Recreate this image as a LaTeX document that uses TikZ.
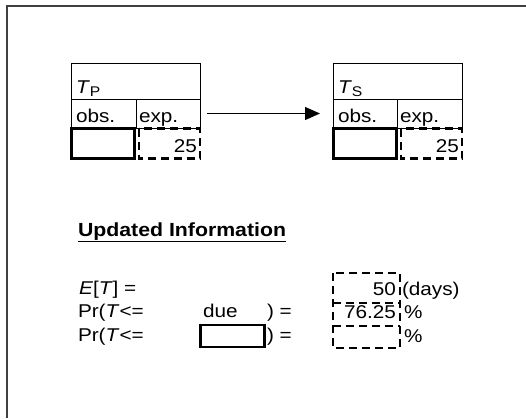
\documentclass[tikz,border=0pt]{standalone}
\usepackage{fontspec}
\setmainfont{Liberation Sans}[FakeStretch=1.12]
\usetikzlibrary{arrows.meta}
\begin{document}
\begin{tikzpicture}[x=1pt,y=-1pt,
  frameline/.style={draw=black!75, line width=1.3pt},
  cell/.style={draw, line width=1pt, inner sep=0pt, outer sep=0pt},
  solidbox/.style={draw, line width=2.3pt, inner sep=0pt, outer sep=0pt},
  hole/.style={inner sep=0pt, outer sep=0pt},
  dbox/.style={line width=2.3pt, dash pattern=on 8pt off 5pt},
  txt/.style={inner sep=0pt, outer sep=0pt, font=\fontsize{18.5}{22}\selectfont},
  head/.style={inner sep=0pt, outer sep=0pt, font=\bfseries\fontsize{19}{22}\selectfont}]
\useasboundingbox (0,0) rectangle (526,418);
\fill[white] (0,0) rectangle (526,418);
\draw[frameline] (526,6) -- (7,6) -- (7,418);

% ---- table T_P
\node[cell, minimum width=129pt, minimum height=36pt] (tph) at (135.5,81) {};
\node[cell, minimum width=65pt, minimum height=29pt] (tpo) at (103.5,113.5) {};
\node[cell, minimum width=64pt, minimum height=29pt] (tpe) at (168,113.5) {};
\node[solidbox, minimum width=63pt, minimum height=30pt] (tpv) at (103,143.5) {};
\node[hole, minimum width=61pt, minimum height=30pt] (tpd) at (169.5,143.5) {};
\draw[dbox] (tpd.north west) rectangle (tpd.south east);
\node[txt, anchor=base west] (tpl) at (76,93) {\textit{T}\raisebox{-0.35ex}{\fontsize{14}{16}\selectfont P}};
\node[txt, anchor=base west] (tpol) at (76,122) {obs.};
\node[txt, anchor=base west] (tpel) at (139,122) {exp.};
\node[txt, anchor=base east] (tpn) at (197,152) {25};

% ---- table T_S
\node[cell, minimum width=129pt, minimum height=36pt] (tsh) at (397.5,81) {};
\node[cell, minimum width=64pt, minimum height=29pt] (tso) at (365,113.5) {};
\node[cell, minimum width=65pt, minimum height=29pt] (tse) at (429.5,113.5) {};
\node[solidbox, minimum width=63pt, minimum height=30pt] (tsv) at (365,143.5) {};
\node[hole, minimum width=61pt, minimum height=30pt] (tsd) at (431.5,143.5) {};
\draw[dbox] (tsd.north west) rectangle (tsd.south east);
\node[txt, anchor=base west] (tsl) at (338,93) {\textit{T}\raisebox{-0.35ex}{\fontsize{14}{16}\selectfont S}};
\node[txt, anchor=base west] (tsol) at (338,122) {obs.};
\node[txt, anchor=base west] (tsel) at (400,122) {exp.};
\node[txt, anchor=base east] (tsn) at (459,152) {25};

% ---- arrow
\draw[line width=1pt, -{Triangle[length=15pt,width=13pt]}, shorten <=7pt, shorten >=13pt] (tpe.east) -- (tso.west);

% ---- updated information
\node[head, anchor=base west] (upd) at (78,236) {\underline{Updated Information}};

\node[txt, anchor=base west] (r1) at (79,294) {\textit{E}[\textit{T}] =};
\node[txt, anchor=base west] (r2) at (78,317) {Pr(\textit{T}<=};
\node[txt, anchor=base west] (r3) at (78,341) {Pr(\textit{T}<=};
\node[txt, anchor=base west] (due) at (203,317) {due};
\node[txt, anchor=base west] (c2) at (267,317) {) =};
\node[txt, anchor=base west] (c3) at (267,341) {) =};
\node[solidbox, minimum width=64pt, minimum height=22pt] (inbox) at (232.5,336) {};

\node[hole, minimum width=67pt, minimum height=30pt] (e1) at (366.5,288) {};
\node[hole, minimum width=67pt, minimum height=23pt] (e2) at (366.5,314.5) {};
\node[hole, minimum width=67pt, minimum height=22pt] (e3) at (366.5,337) {};
\draw[dbox] (e1.north west) rectangle (e3.south east);
\draw[dbox] (e1.south west) -- (e1.south east);
\draw[dbox] (e3.north west) -- (e3.north east);
\node[txt, anchor=base east] (v1) at (396,295) {50};
\node[txt, anchor=base west] (u1) at (402,295) {(days)};
\node[txt, anchor=base east] (v2) at (396,318) {76.25};
\node[txt, anchor=base west] (u2) at (404,318) {\%};
\node[txt, anchor=base west] (u3) at (404,342) {\%};
\end{tikzpicture}
\end{document}
